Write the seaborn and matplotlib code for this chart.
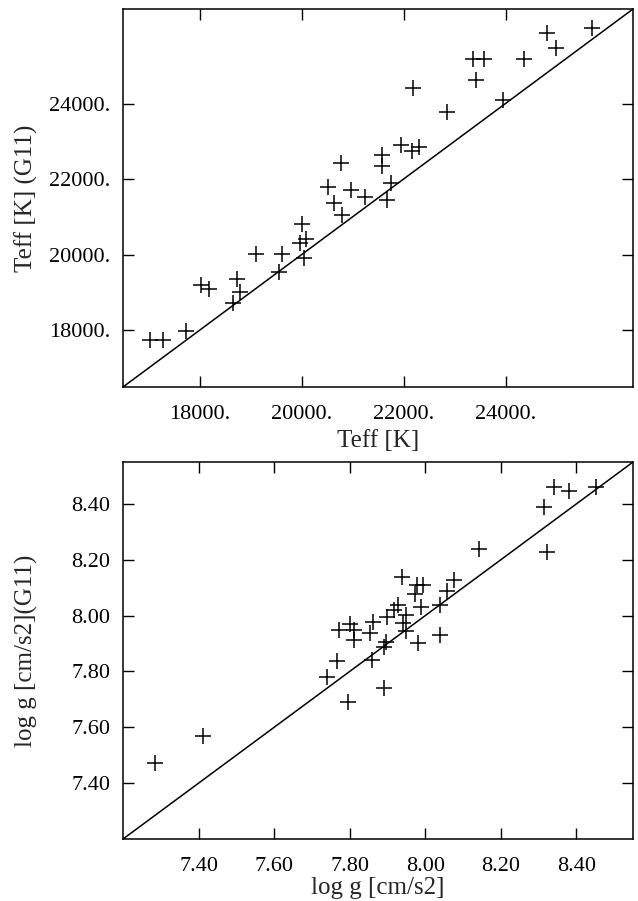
import matplotlib
matplotlib.use("Agg")
import matplotlib.pyplot as plt
import seaborn as sns
import pandas as pd
from matplotlib.ticker import FixedLocator, FuncFormatter

# Effective temperature: this work (x) vs G11 (y)
teff_this = [17030, 17280, 17730, 18020, 18190, 18730, 18790, 18660, 19110, 19620,
             19550, 20000, 19970, 20080, 20040, 20525, 20640, 20790, 20770, 20980,
             21250, 21580, 21580, 21670, 21750, 21950, 22160, 22310, 22190, 22860,
             23360, 23580, 23420, 23950, 24360, 24810, 24990, 25700]
teff_g11 = [17750, 17730, 17970, 19190, 19090, 19350, 19000, 18730, 20010, 20010,
            19530, 20820, 20310, 20410, 19920, 21800, 21370, 21040, 22415, 21720,
            21530, 22630, 22340, 21450, 21900, 22915, 22750, 22860, 24420, 23770,
            25180, 25180, 24610, 24090, 25180, 25870, 25460, 25990]

# Surface gravity: this work (x) vs G11 (y)
logg_this = [7.284, 7.411, 7.740, 7.767, 7.796, 7.860, 7.890, 7.773, 7.800, 7.812,
             7.812, 7.853, 7.863, 7.897, 7.890, 7.900, 7.918, 7.929, 7.941, 7.950,
             7.948, 7.989, 7.980, 8.040, 8.038, 8.058, 8.077, 7.977, 7.994, 7.974,
             7.938, 8.142, 8.314, 8.341, 8.380, 8.451, 8.323]
logg_g11 = [7.471, 7.569, 7.779, 7.838, 7.691, 7.840, 7.739, 7.947, 7.971, 7.947,
            7.914, 7.938, 7.977, 7.904, 7.888, 7.995, 8.021, 8.037, 7.973, 7.945,
            8.003, 8.031, 7.902, 8.037, 7.930, 8.087, 8.126, 8.108, 8.108, 8.079,
            8.140, 8.239, 8.388, 8.459, 8.448, 8.459, 8.227]

teff_ticks = [18000, 20000, 22000, 24000]
logg_ticks = [7.40, 7.60, 7.80, 8.00, 8.20, 8.40]
teff_range = (16500, 26500)
logg_range = (7.20, 8.55)

sns.set_style("ticks")
plt.rcParams["font.family"] = ["Liberation Serif", "DejaVu Serif"]

fig = plt.figure(figsize=(6.38, 9.01), dpi=100)
ax1 = fig.add_axes([0.1928, 0.5705, 0.7994, 0.4195])
ax2 = fig.add_axes([0.1928, 0.0688, 0.7994, 0.4184])

df_t = pd.DataFrame({"x": teff_this, "y": teff_g11})
df_g = pd.DataFrame({"x": logg_this, "y": logg_g11})


def panel(ax, df, rng, ticks, fmt, xlabel, ylabel, xlabelpad):
    # one-to-one reference line across the full square range
    ax.plot(rng, rng, color="black", lw=1.1, zorder=1)
    sns.scatterplot(data=df, x="x", y="y", marker="+", s=135, color="black",
                    linewidth=1.1, ax=ax, zorder=2)
    ax.set_xlim(rng)
    ax.set_ylim(rng)
    ax.xaxis.set_major_locator(FixedLocator(ticks))
    ax.yaxis.set_major_locator(FixedLocator(ticks))
    ax.xaxis.set_major_formatter(FuncFormatter(fmt))
    ax.yaxis.set_major_formatter(FuncFormatter(fmt))
    ax.tick_params(direction="in", length=8, width=1.0, top=True, right=True,
                   labelsize=16, colors="black")
    ax.tick_params(axis="x", pad=13)
    ax.tick_params(axis="y", pad=9)
    for s in ax.spines.values():
        s.set_linewidth(1.1)
        s.set_color("black")
    ax.set_xlabel(xlabel, fontsize=18, labelpad=xlabelpad)
    ax.set_ylabel(ylabel, fontsize=18)
    ax.yaxis.set_label_coords(-0.166, 0.5)


panel(ax1, df_t, teff_range, teff_ticks, lambda v, p: f"{v:.0f}.",
      "Teff [K]", "Teff [K] (G11)", 4)
panel(ax2, df_g, logg_range, logg_ticks, lambda v, p: f"{v:.2f}",
      "log g [cm/s2]", "log g [cm/s2](G11)", 1)

fig.savefig("out.png", dpi=100)
